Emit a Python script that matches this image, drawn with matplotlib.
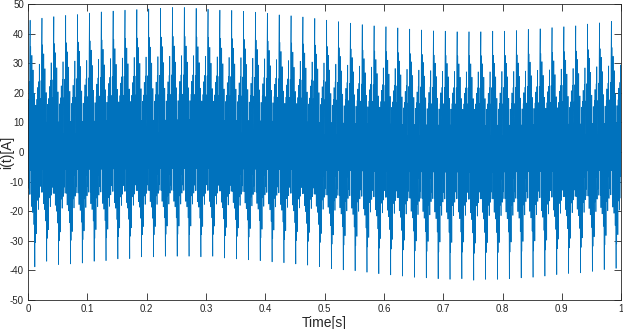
import numpy as np
import matplotlib
matplotlib.use('Agg')
import matplotlib.pyplot as plt

plt.rcParams['font.family'] = ['Liberation Sans', 'DejaVu Sans']
plt.rcParams['axes.unicode_minus'] = False

# one 20 ms cycle of the current, 40 samples (A)
cycle_shape = [6, -12, 18, -8, 24, -14, 32, 45, -6, 36,
               -14, 26, -18, 33, -10, 22, -20, 28, -15, 14,
               -24, 20, -18, -38, 10, -30, 16, -22, 6, -27,
               18, -16, 22, -14, 12, -19, 24, -8, 30, -15]

# positive peak of each of the 50 cycles (A)
pos_peaks = [44.5, 45.2, 45.7, 46.1, 46.4, 46.9, 47.3, 47.6, 47.9, 48.1,
             48.3, 48.5, 48.8, 48.8, 48.5, 48.2, 47.9, 47.8, 47.5, 47.2,
             46.8, 46.3, 46.0, 45.6, 45.1, 44.5, 44.0, 43.5, 43.0, 42.6,
             42.3, 41.9, 41.5, 41.2, 40.9, 40.8, 40.6, 40.6, 40.6, 40.8,
             40.8, 41.0, 41.4, 41.6, 42.0, 42.3, 42.6, 43.2, 43.6, 44.1]

# negative peak of each of the 50 cycles (A)
neg_peaks = [-38.8, -36.9, -38.0, -37.8, -37.5, -36.9, -36.7, -36.1, -36.0, -35.4,
             -35.4, -35.2, -35.2, -35.2, -35.4, -35.2, -35.8, -36.1, -36.4, -36.7,
             -37.1, -37.4, -37.8, -38.2, -38.7, -39.4, -39.8, -40.1, -40.6, -41.1,
             -41.5, -41.9, -42.3, -42.5, -42.8, -43.0, -42.8, -43.3, -43.0, -43.0,
             -42.8, -42.5, -42.3, -41.9, -41.4, -41.0, -40.8, -40.3, -39.7, -39.3]

fs = 2000  # samples per second

shape = np.array(cycle_shape, dtype=float)
pmax = shape.max()
nmin = shape.min()
current = []
for p, n in zip(pos_peaks, neg_peaks):
    c = np.where(shape > 0, shape * p / pmax, shape * n / nmin)
    current.append(c)
current = np.concatenate(current)
t = np.arange(len(current)) / fs

fig = plt.figure(figsize=(6.23, 3.29), dpi=100)
ax = fig.add_axes([0.045, 0.088, 0.952, 0.9])
ax.plot(t, current, color='#0072BD', linewidth=0.5)

ax.set_xlim(0, 1)
ax.set_ylim(-50, 50)
ax.set_xticks(np.arange(0, 1.01, 0.1))
ax.set_xticklabels(['0', '0.1', '0.2', '0.3', '0.4', '0.5', '0.6', '0.7', '0.8', '0.9', '1'])
ax.set_yticks(np.arange(-50, 51, 10))
ax.tick_params(direction='in', length=5, width=0.6, colors='#262626',
               labelsize=7, top=True, right=True, pad=3)
for s in ax.spines.values():
    s.set_color('#262626')
    s.set_linewidth(0.6)

ax.set_xlabel('Time[s]', fontsize=10, color='#262626', labelpad=1)
ax.set_ylabel('i(t)[A]', fontsize=10, color='#262626')
ax.yaxis.set_label_coords(-0.024, 0.5)

fig.savefig('out.png', dpi=100)
